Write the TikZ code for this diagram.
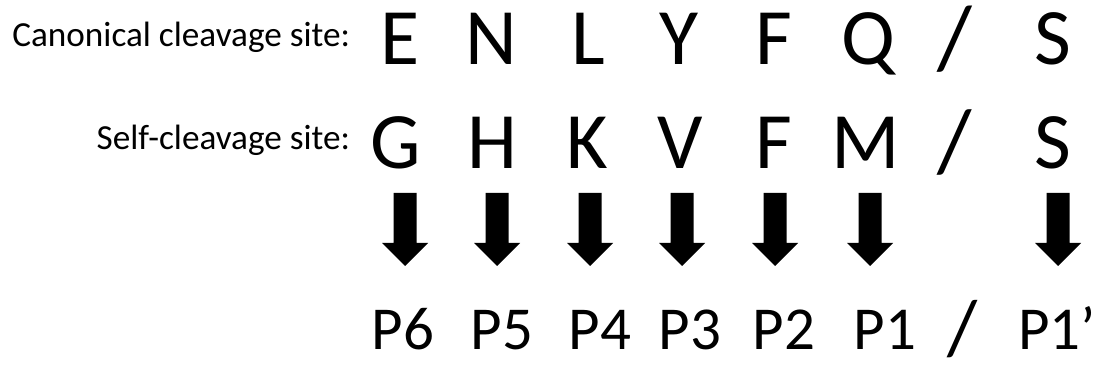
\documentclass[tikz,border=0pt]{standalone}
\usepackage{fontspec}
\setmainfont{Carlito}
\begin{document}
\begin{tikzpicture}[x=1pt,y=-1pt,
  every node/.style={inner sep=0pt,outer sep=0pt,text=black},
  caption/.style={anchor=base east,font=\fontsize{35.2}{40}\selectfont},
  residue/.style={anchor=base,font=\fontsize{80}{90}\selectfont},
  slashmark/.style={anchor=base,font=\fontsize{#1}{90}\selectfont},
  position/.style={anchor=base,font=\fontsize{61}{70}\selectfont},
  blockarrow/.pic={\fill[black] (-11.5,0) -- (11.5,0) -- (11.5,50) -- (23,50)
    -- (0,73) -- (-23,50) -- (-11.5,50) -- cycle;}]
\useasboundingbox (0,0) rectangle (1109,371);

% row captions
\node[caption] (canon) at (350,47) {Canonical cleavage site:};
\node[caption] (self)  at (350,150) {Self-cleavage site:};

% canonical cleavage site residues
\foreach \x/\t/\n in {400/E/a1,491/N/a2,588/L/a3,679/Y/a4,774/F/a5,868/Q/a6,1053/S/a8}
  \node[residue] (\n) at (\x,65) {\t};
\node[slashmark=90] (a7) at (955,69) {/};

% self-cleavage site residues
\foreach \x/\t/\n in {396/G/b1,492/H/b2,587/K/b3,680/V/b4,774/F/b5,866/M/b6,1053/S/b8}
  \node[residue] (\n) at (\x,169) {\t};
\node[slashmark=89] (b7) at (955,172) {/};

% block arrows, each hung from a named top point
\foreach \x/\n in {405/d1,497/d2,590/d3,682/d4,775/d5,870/d6,1058/d8}{
  \coordinate (\n) at (\x,193);
  \pic at (\n) {blockarrow};
}

% position labels
\foreach \x/\t/\n in {403/P6/p1,502/P5/p2,600/P4/p3,690/P3/p4,784/P2/p5,885/P1/p6}
  \node[position] (\n) at (\x,350) {\t};
\node[position,anchor=base west] (p8) at (1018,350) {P1’};
\node[slashmark=78] (p7) at (963,355) {/};
\end{tikzpicture}
\end{document}
